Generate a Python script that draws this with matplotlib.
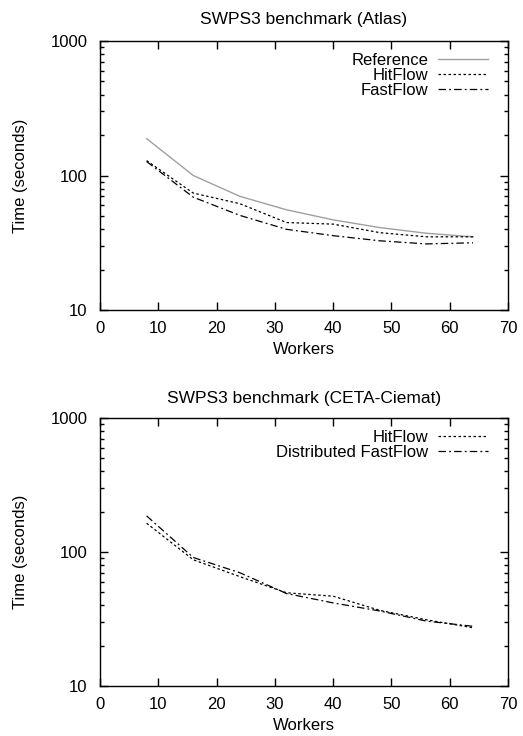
import matplotlib
matplotlib.use("Agg")
from matplotlib import pyplot as plt
from matplotlib.ticker import LogLocator, NullFormatter, FixedLocator

plt.rcParams['font.family'] = ['Liberation Sans', 'DejaVu Sans']

workers = [8, 16, 24, 32, 40, 48, 56, 64]

# Atlas
atlasReference = [188, 100, 70, 55.6, 46.8, 41, 37.2, 35]
atlasHitFlow = [129, 74, 61.7, 44.7, 43.5, 37.6, 35, 35]
atlasFastFlow = [127, 69, 50.5, 39.8, 35.7, 32.7, 31, 31.6]

# CETA-Ciemat
cetaHitFlow = [164, 87.5, 65.5, 49.6, 46.8, 36.7, 31.2, 27.2]
cetaFastFlow = [186, 91, 70, 49, 41.7, 36.3, 30.5, 27.9]

fs = 12
W, H = 523, 736
fig = plt.figure(figsize=(W / 100, H / 100), dpi=100)

def make_axes(top, bottom):
    ax = fig.add_axes([100 / W, (H - bottom) / H, 408 / W, (bottom - top) / H])
    ax.set_yscale("log")
    ax.set_ylim(10, 1000)
    ax.set_xlim(0, 70)
    ax.xaxis.set_major_locator(FixedLocator(range(0, 71, 10)))
    ax.yaxis.set_major_locator(FixedLocator([10, 100, 1000]))
    ax.set_yticklabels(["10", "100", "1000"])
    ax.yaxis.set_minor_locator(LogLocator(base=10, subs=range(2, 10)))
    ax.yaxis.set_minor_formatter(NullFormatter())
    ax.tick_params(which="both", direction="in", top=True, right=True, labelsize=fs, width=1.0)
    ax.tick_params(axis="x", pad=8)
    ax.tick_params(axis="y", pad=9)
    ax.tick_params(which="major", length=6)
    ax.tick_params(which="minor", length=3)
    for s in ax.spines.values():
        s.set_linewidth(1.0)
    ax.set_xlabel("Workers", fontsize=fs, labelpad=4)
    ax.set_ylabel("Time (seconds)", fontsize=fs, labelpad=16)
    return ax

def add_legend(ax):
    ax.legend(loc="upper right", bbox_to_anchor=(1 - 8 / 408, 1), frameon=False,
              markerfirst=False, fontsize=fs, handlelength=3.0, handletextpad=0.6,
              labelspacing=0.0, borderaxespad=0.3)

ax1 = make_axes(41, 310)
ax1.plot(workers, atlasReference, color="#a0a0a0", lw=1.0, label="Reference")
ax1.plot(workers, atlasHitFlow, color="black", lw=0.9, linestyle=(0, (2, 2)), label="HitFlow")
ax1.plot(workers, atlasFastFlow, color="black", lw=0.9, linestyle=(0, (6, 2.5, 1.5, 2.5)), label="FastFlow")
ax1.set_title("SWPS3 benchmark (Atlas)", fontsize=12.5, pad=12)
add_legend(ax1)

ax2 = make_axes(418, 686)
ax2.plot(workers, cetaHitFlow, color="black", lw=0.9, linestyle=(0, (2, 2)), label="HitFlow")
ax2.plot(workers, cetaFastFlow, color="black", lw=0.9, linestyle=(0, (6, 2.5, 1.5, 2.5)), label="Distributed FastFlow")
ax2.set_title("SWPS3 benchmark (CETA-Ciemat)", fontsize=12.5, pad=11)
add_legend(ax2)

fig.savefig("out.png", dpi=100)
